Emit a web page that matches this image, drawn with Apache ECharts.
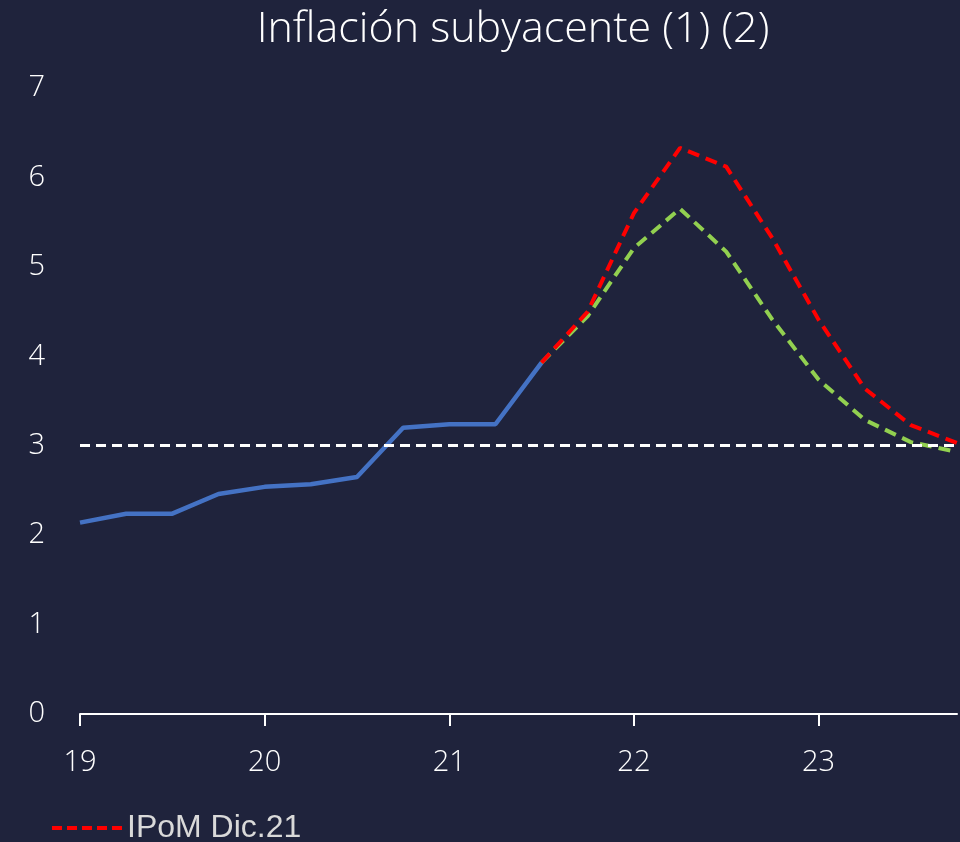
<!DOCTYPE html>
<html>
<head>
<meta charset="utf-8">
<script src="https://cdn.jsdelivr.net/npm/echarts@6/dist/echarts.min.js"></script>
<style>
  html, body { margin: 0; padding: 0; background: #1f233c; }
  #chart { width: 960px; height: 842px; }
</style>
</head>
<body>
<div id="chart"></div>
<script>
// trimestres 2019 Q1 .. 2023 Q4
const quarters = ['19', '', '', '', '20', '', '', '', '21', '', '', '', '22', '', '', '', '23', '', '', '']

// efectivo
const observed = [2.14, 2.24, 2.24, 2.46, 2.54, 2.57, 2.65, 3.20, 3.24, 3.24, 3.93,
  null, null, null, null, null, null, null, null, null]

// proyecciones
const ipomDic21 = [null, null, null, null, null, null, null, null, null, null,
  3.93, 4.50, 5.60, 6.33, 6.12, 5.32, 4.41, 3.64, 3.23, 3.03]
const otherProj = [null, null, null, null, null, null, null, null, null, null,
  3.93, 4.45, 5.21, 5.65, 5.17, 4.41, 3.74, 3.29, 3.04, 2.93]

const target = 3

const chart = echarts.init(document.getElementById('chart'))

const option = {
  backgroundColor: '#1f233c',
  animation: false,
  title: {
    text: 'Inflación subyacente (1) (2)',
    left: 508,
    textAlign: 'center',
    top: 3,
    textStyle: {
      color: '#ffffff',
      fontFamily: 'Open Sans',
      fontWeight: 300,
      fontSize: 43
    }
  },
  legend: {
    data: ['IPoM Dic.21'],
    left: 45,
    top: 807,
    itemWidth: 70,
    itemHeight: 14,
    itemGap: 6,
    itemStyle: { opacity: 0 },
    lineStyle: { width: 4, type: [10, 5] },
    textStyle: {
      color: '#d9d9d9',
      fontFamily: 'Liberation Sans',
      fontSize: 32
    }
  },
  grid: { left: 80, right: 3, top: 88, bottom: 128 },
  xAxis: {
    type: 'category',
    data: quarters,
    boundaryGap: false,
    axisLine: { lineStyle: { color: '#ffffff', width: 2 } },
    axisTick: { interval: 3, length: 12, lineStyle: { color: '#ffffff', width: 2 } },
    axisLabel: {
      interval: 3,
      margin: 34,
      color: '#ffffff',
      fontFamily: 'Open Sans',
      fontWeight: 300,
      fontSize: 29
    }
  },
  yAxis: {
    type: 'value',
    min: 0,
    max: 7,
    interval: 1,
    splitLine: { show: false },
    axisLine: { show: false },
    axisTick: { show: false },
    axisLabel: {
      margin: 35,
      color: '#ffffff',
      fontFamily: 'Open Sans',
      fontWeight: 300,
      fontSize: 29
    }
  },
  series: [
    {
      name: 'Efectivo',
      type: 'line',
      data: observed,
      symbol: 'none',
      lineStyle: { color: '#4472c4', width: 4.5 },
      itemStyle: { color: '#4472c4' },
      markLine: {
        silent: true,
        symbol: 'none',
        label: { show: false },
        lineStyle: { color: '#ffffff', width: 3, type: [10, 6] },
        data: [{ yAxis: target }]
      }
    },
    {
      name: 'Proyección',
      type: 'line',
      data: otherProj,
      symbol: 'none',
      lineStyle: { color: '#92d050', width: 4, type: [12, 7] },
      itemStyle: { color: '#92d050' }
    },
    {
      name: 'IPoM Dic.21',
      type: 'line',
      data: ipomDic21,
      symbol: 'none',
      lineStyle: { color: '#ff0000', width: 4, type: [12, 7] },
      itemStyle: { color: '#ff0000' }
    }
  ]
}

chart.setOption(option)
</script>
</body>
</html>
